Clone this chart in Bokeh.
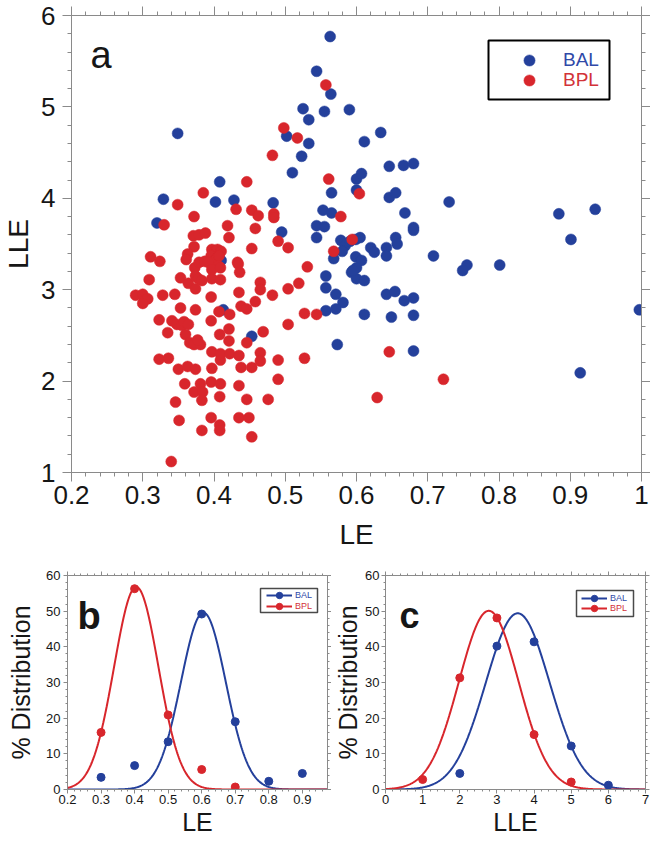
import numpy as np
from bokeh.plotting import figure
from bokeh.models import (LinearAxis, SingleIntervalTicker, Range1d, Legend, LegendItem,
                          Label, BoxAnnotation, CustomJSTickFormatter)
from bokeh.layouts import column, row
from bokeh.embed import file_html
from bokeh.resources import INLINE

# ---------------- data ----------------
bal_le = [0.563, 0.544, 0.564, 0.525, 0.555, 0.533, 0.502, 0.533, 0.523, 0.510,
          0.349, 0.408, 0.329, 0.402, 0.428, 0.483, 0.565, 0.553, 0.565, 0.320,
          0.495, 0.544, 0.555, 0.544, 0.590, 0.634, 0.611, 0.646, 0.666, 0.680,
          0.600, 0.607, 0.600, 0.646, 0.655, 0.730, 0.884, 0.935, 0.901, 0.668,
          0.680, 0.680, 0.655, 0.657, 0.605, 0.578, 0.584, 0.580, 0.591, 0.599,
          0.620, 0.625, 0.642, 0.642, 0.599, 0.607, 0.568, 0.708, 0.755, 0.749,
          0.801, 0.593, 0.600, 0.600, 0.611, 0.557, 0.557, 0.571, 0.581, 0.557,
          0.571, 0.611, 0.642, 0.654, 0.667, 0.680, 0.649, 0.680, 0.573, 0.680,
          0.997, 0.914, 0.413, 0.453, 0.410, 0.407, 0.595]
bal_lle = [5.77, 5.39, 5.14, 4.98, 4.95, 4.86, 4.68, 4.60, 4.46, 4.28,
           4.71, 4.18, 3.99, 3.96, 3.98, 3.95, 4.06, 3.87, 3.84, 3.73,
           3.63, 3.70, 3.69, 3.57, 4.97, 4.72, 4.62, 4.35, 4.36, 4.38,
           4.21, 4.27, 4.09, 4.01, 4.06, 3.96, 3.83, 3.88, 3.55, 3.84,
           3.68, 3.65, 3.57, 3.50, 3.57, 3.54, 3.48, 3.42, 3.53, 3.55,
           3.46, 3.41, 3.46, 3.37, 3.36, 3.32, 3.34, 3.37, 3.27, 3.21,
           3.27, 3.19, 3.24, 3.12, 3.10, 3.15, 3.02, 2.95, 2.86, 2.77,
           2.79, 2.73, 2.95, 2.98, 2.88, 2.91, 2.70, 2.72, 2.40, 2.33,
           2.78, 2.09, 2.78, 2.49, 3.32, 3.30, 3.21]

bpl_le = [0.557, 0.498, 0.517, 0.482, 0.561, 0.446, 0.385, 0.349, 0.372, 0.431,
          0.453, 0.462, 0.484, 0.484, 0.330, 0.419, 0.458, 0.371, 0.379, 0.388,
          0.421, 0.490, 0.504, 0.453, 0.372, 0.397, 0.402, 0.405, 0.410, 0.311,
          0.324, 0.363, 0.361, 0.373, 0.379, 0.387, 0.396, 0.402, 0.407, 0.392,
          0.406, 0.433, 0.531, 0.568, 0.604, 0.578, 0.594, 0.309, 0.290, 0.300,
          0.302, 0.307, 0.300, 0.328, 0.345, 0.353, 0.364, 0.374, 0.378, 0.383,
          0.374, 0.396, 0.397, 0.409, 0.434, 0.436, 0.435, 0.465, 0.465, 0.482,
          0.504, 0.519, 0.323, 0.341, 0.348, 0.355, 0.358, 0.335, 0.353, 0.374,
          0.364, 0.360, 0.366, 0.372, 0.381, 0.377, 0.396, 0.407, 0.422, 0.438,
          0.446, 0.458, 0.421, 0.408, 0.421, 0.446, 0.469, 0.504, 0.527, 0.544,
          0.323, 0.336, 0.350, 0.363, 0.374, 0.397, 0.409, 0.409, 0.422, 0.435,
          0.438, 0.453, 0.465, 0.465, 0.490, 0.527, 0.397, 0.359, 0.381, 0.372,
          0.384, 0.383, 0.396, 0.409, 0.408, 0.435, 0.446, 0.476, 0.490, 0.346,
          0.351, 0.383, 0.396, 0.408, 0.408, 0.435, 0.449, 0.453, 0.340, 0.646,
          0.722, 0.629, 0.397, 0.409]
bpl_lle = [5.24, 4.77, 4.66, 4.47, 4.21, 4.18, 4.06, 3.93, 3.80, 3.88,
           3.87, 3.81, 3.83, 3.79, 3.71, 3.70, 3.67, 3.59, 3.60, 3.62,
           3.57, 3.53, 3.46, 3.45, 3.47, 3.44, 3.42, 3.44, 3.42, 3.36,
           3.31, 3.39, 3.33, 3.24, 3.30, 3.31, 3.37, 3.33, 3.37, 3.30,
           3.26, 3.30, 3.25, 3.42, 4.05, 3.80, 3.55, 3.11, 2.94, 2.95,
           2.88, 2.90, 2.85, 2.94, 2.95, 3.13, 3.07, 3.15, 3.12, 3.10,
           3.01, 2.92, 3.12, 3.11, 3.28, 3.19, 2.97, 3.08, 3.00, 2.94,
           3.01, 3.07, 2.67, 2.66, 2.62, 2.61, 2.65, 2.53, 2.80, 2.78,
           2.62, 2.51, 2.42, 2.40, 2.40, 2.45, 2.66, 2.76, 2.73, 2.82,
           2.79, 2.87, 2.57, 2.51, 2.44, 2.42, 2.54, 2.62, 2.74, 2.73,
           2.24, 2.25, 2.13, 2.16, 2.13, 2.32, 2.23, 2.30, 2.30, 2.28,
           2.15, 2.15, 2.31, 2.22, 2.23, 2.25, 2.14, 1.97, 1.97, 1.88,
           1.88, 1.79, 1.99, 1.97, 1.83, 1.95, 1.80, 1.80, 2.02, 1.77,
           1.57, 1.46, 1.60, 1.52, 1.46, 1.60, 1.60, 1.39, 1.12, 2.32,
           2.02, 1.82, 3.22, 3.24]

# panel b: % distribution over LE
le_bins_bal = [0.3, 0.4, 0.5, 0.6, 0.7, 0.8, 0.9]
le_pct_bal = [3.4, 6.7, 13.4, 49.2, 19.0, 2.3, 4.5]
le_bins_bpl = [0.3, 0.4, 0.5, 0.6, 0.7]
le_pct_bpl = [16.0, 56.3, 20.9, 5.6, 0.7]
# gaussian fits: amplitude, centre, sigma
le_fit_bal = [49.6, 0.605, 0.067]
le_fit_bpl = [56.8, 0.405, 0.066]

# panel c: % distribution over LLE
lle_bins_bal = [2, 3, 4, 5, 6]
lle_pct_bal = [4.5, 40.2, 41.4, 12.2, 1.2]
lle_bins_bpl = [1, 2, 3, 4, 5]
lle_pct_bpl = [2.8, 31.3, 48.1, 15.4, 2.1]
lle_fit_bal = [49.4, 3.56, 0.86]
lle_fit_bpl = [50.1, 2.78, 0.80]

# ---------------- style ----------------
BLUE = "#24409b"
RED = "#d8262c"
BLUE_TXT = "#3049a8"
RED_TXT = "#d23238"
FONT = "Liberation Sans"
AXC = "#8a8a8a"
TXT = "#161616"

fmt = CustomJSTickFormatter(code="return String(Number(tick.toFixed(2)));")
blank = CustomJSTickFormatter(code="return '';")


def gauss(xs, fit):
    a, m, s = fit
    return a * np.exp(-(xs - m) ** 2 / (2 * s ** 2))


def setup_axes(p, xint, yint, lab_px, maj, mnr, xlabel, ylabel, axlab_px,
               xlab_standoff, ylab_standoff, axlab_standoff_x, axlab_standoff_y):
    p.xgrid.visible = False
    p.ygrid.visible = False
    p.outline_line_color = None
    p.background_fill_color = "white"
    p.border_fill_color = "white"
    xt = SingleIntervalTicker(interval=xint, num_minor_ticks=5)
    yt = SingleIntervalTicker(interval=yint, num_minor_ticks=5)
    p.xaxis.ticker = xt
    p.yaxis.ticker = yt
    p.xaxis.formatter = fmt
    for ax, lab, st, lst in ((p.xaxis[0], xlabel, axlab_standoff_x, xlab_standoff),
                             (p.yaxis[0], ylabel, axlab_standoff_y, ylab_standoff)):
        ax.axis_label = lab
        ax.axis_label_text_font = FONT
        ax.axis_label_text_font_size = f"{axlab_px}px"
        ax.axis_label_text_font_style = "normal"
        ax.axis_label_text_color = TXT
        ax.axis_label_standoff = st
        ax.major_label_text_font = FONT
        ax.major_label_text_font_size = f"{lab_px}px"
        ax.major_label_text_color = TXT
        ax.major_label_standoff = lst
    for ax in (p.xaxis[0], p.yaxis[0]):
        ax.axis_line_color = AXC
        ax.major_tick_line_color = AXC
        ax.minor_tick_line_color = AXC
        ax.major_tick_out = maj
        ax.major_tick_in = 0
        ax.minor_tick_out = mnr
        ax.minor_tick_in = 0
    for side, t in (("above", xt), ("right", yt)):
        ax = LinearAxis(ticker=t, formatter=blank, major_label_standoff=0,
                        axis_line_color=AXC, major_tick_line_color=AXC, minor_tick_line_color=AXC,
                        major_tick_out=maj, major_tick_in=0, minor_tick_out=mnr, minor_tick_in=0)
        p.add_layout(ax, side)


def make_legend(p, renderer, label, color, x, y, gw, gh, standoff, font_px):
    leg = Legend(items=[LegendItem(label=label, renderers=renderer)], location=(x, y),
                 glyph_width=gw, glyph_height=gh, label_height=gh, label_standoff=standoff,
                 padding=0, margin=0, spacing=0, border_line_alpha=0, background_fill_alpha=0,
                 label_text_color=color, label_text_font=FONT, label_text_font_size=f"{font_px}px")
    p.add_layout(leg)


def frame_box(p, left, right, top, bottom, color, width):
    p.add_layout(BoxAnnotation(left=left, right=right, top=top, bottom=bottom,
                               left_units="screen", right_units="screen", top_units="screen",
                               bottom_units="screen", fill_color="white", fill_alpha=1,
                               line_color=color, line_width=width, line_alpha=1))


# ---------------- panel a ----------------
FA_W, FA_H = 575, 457
pa = figure(width=650, height=555, x_range=Range1d(0.2, 1.0), y_range=Range1d(1, 6),
            output_backend="svg", toolbar_location=None,
            min_border_left=66, min_border_right=9, min_border_top=15, min_border_bottom=83)
setup_axes(pa, 0.1, 1, 26, 9, 4, "LE", "LLE", 28, 4, 7, 12, 4)
r_bal = pa.scatter(bal_le, bal_lle, size=11, fill_color=BLUE, line_color=BLUE, line_width=0.5)
r_bpl = pa.scatter(bpl_le, bpl_lle, size=11, fill_color=RED, line_color=RED, line_width=0.5)

frame_box(pa, 417, 538, FA_H - 25, FA_H - 84, "black", 2)
make_legend(pa, [r_bal], "BAL", BLUE_TXT, 444, FA_H - 45 - 14, 28, 28, 20, 19)
make_legend(pa, [r_bpl], "BPL", RED_TXT, 444, FA_H - 65 - 14, 28, 28, 20, 19)
pa.add_layout(Label(x=19, y=FA_H - 39, x_units="screen", y_units="screen", text="a",
                    text_font=FONT, text_font_size="38px", text_color=TXT,
                    text_baseline="alphabetic"))

# ---------------- panel b ----------------
FB_W, FB_H = 260, 214
pb = figure(width=331, height=283, x_range=Range1d(0.2, 0.975), y_range=Range1d(0, 60),
            output_backend="svg", toolbar_location=None,
            min_border_left=67, min_border_right=4, min_border_top=20, min_border_bottom=49)
setup_axes(pb, 0.1, 10, 13, 4, 2, "LE", "% Distribution", 25, 1, 3, 1, 8)
xb = np.linspace(0.2, 0.975, 400)
lb1 = pb.line(xb, gauss(xb, le_fit_bal), line_color=BLUE, line_width=2)
lb2 = pb.line(xb, gauss(xb, le_fit_bpl), line_color=RED, line_width=2)
sb1 = pb.scatter(le_bins_bal, le_pct_bal, size=8, fill_color=BLUE, line_color=BLUE)
sb2 = pb.scatter(le_bins_bpl, le_pct_bpl, size=8, fill_color=RED, line_color=RED)
frame_box(pb, 193, 250, FB_H - 13, FB_H - 37, "#4a4a4a", 1.5)
make_legend(pb, [lb1, sb1], "BAL", BLUE_TXT, 199, FB_H - 20 - 8, 26, 16, 3, 9)
make_legend(pb, [lb2, sb2], "BPL", RED_TXT, 199, FB_H - 30.5 - 8, 26, 16, 3, 9)
pb.add_layout(Label(x=10, y=FB_H - 40, x_units="screen", y_units="screen", text="b",
                    text_font=FONT, text_font_size="38px", text_font_style="bold",
                    text_color=TXT, text_baseline="alphabetic"))

# ---------------- panel c ----------------
FC_W, FC_H = 264, 214
pc = figure(width=319, height=283, x_range=Range1d(0, 7), y_range=Range1d(0, 60),
            output_backend="svg", toolbar_location=None,
            min_border_left=50, min_border_right=5, min_border_top=20, min_border_bottom=49)
setup_axes(pc, 1, 10, 13, 4, 2, "LLE", "% Distribution", 25, 1, 2, 1, 0)
xc = np.linspace(0, 7, 400)
lc1 = pc.line(xc, gauss(xc, lle_fit_bal), line_color=BLUE, line_width=2)
lc2 = pc.line(xc, gauss(xc, lle_fit_bpl), line_color=RED, line_width=2)
sc1 = pc.scatter(lle_bins_bal, lle_pct_bal, size=8, fill_color=BLUE, line_color=BLUE)
sc2 = pc.scatter(lle_bins_bpl, lle_pct_bpl, size=8, fill_color=RED, line_color=RED)
frame_box(pc, 191, 248, FC_H - 15, FC_H - 41, "#4a4a4a", 1.5)
make_legend(pc, [lc1, sc1], "BAL", BLUE_TXT, 196, FC_H - 22.5 - 8, 26, 16, 3, 9)
make_legend(pc, [lc2, sc2], "BPL", RED_TXT, 196, FC_H - 33 - 8, 26, 16, 3, 9)
pc.add_layout(Label(x=14, y=FC_H - 40, x_units="screen", y_units="screen", text="c",
                    text_font=FONT, text_font_size="36px", text_font_style="bold",
                    text_color=TXT, text_baseline="alphabetic"))

layout = column(pa, row(pb, pc, spacing=0), spacing=0)
open("out.html", "w").write(file_html(layout, INLINE))
